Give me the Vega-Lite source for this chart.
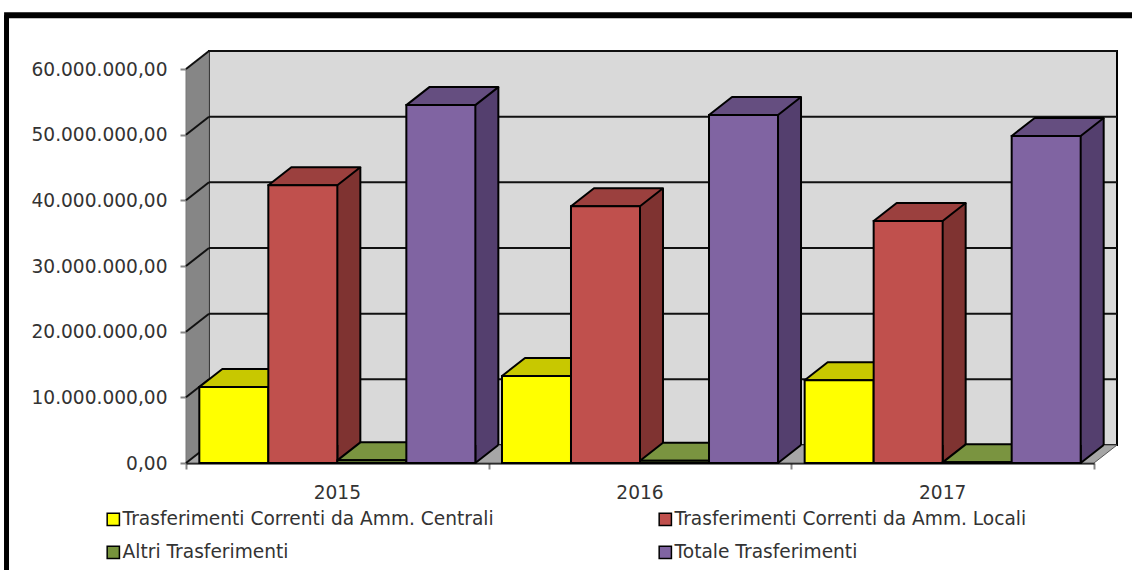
{
"$schema":"https://vega.github.io/schema/vega-lite/v6.json",
"width":908,"height":394,
"autosize":{"type":"none"},
"padding":{"left":186,"top":69,"right":38,"bottom":107},
"background":"white",
"config":{"view":{"stroke":null},"font":"DejaVu Sans"},
"datasets":{
"bars":[
{"anno":"2015","serie":"Trasferimenti Correnti da Amm. Centrali","valore":11570000},
{"anno":"2015","serie":"Trasferimenti Correnti da Amm. Locali","valore":42300000},
{"anno":"2015","serie":"Altri Trasferimenti","valore":400000},
{"anno":"2015","serie":"Totale Trasferimenti","valore":54500000},
{"anno":"2016","serie":"Trasferimenti Correnti da Amm. Centrali","valore":13250000},
{"anno":"2016","serie":"Trasferimenti Correnti da Amm. Locali","valore":39100000},
{"anno":"2016","serie":"Altri Trasferimenti","valore":350000},
{"anno":"2016","serie":"Totale Trasferimenti","valore":53000000},
{"anno":"2017","serie":"Trasferimenti Correnti da Amm. Centrali","valore":12600000},
{"anno":"2017","serie":"Trasferimenti Correnti da Amm. Locali","valore":36850000},
{"anno":"2017","serie":"Altri Trasferimenti","valore":100000},
{"anno":"2017","serie":"Totale Trasferimenti","valore":49800000}
],
"griglia":[{"v":0},{"v":10000000},{"v":20000000},{"v":30000000},{"v":40000000},{"v":50000000},{"v":60000000}],
"uno":[{"k":1}]
},
"resolve":{"scale":{"x":"independent","color":"independent","xOffset":"independent"}},
"layer":[
{"data":{"name":"uno"},"mark":{"type":"rect","fill":"#d9d9d9","stroke":"#000","strokeWidth":2,"xOffset":23,"x2Offset":23,"yOffset":-18,"y2Offset":-18},
 "encoding":{"x":{"datum":0,"type":"quantitative","scale":{"domain":[0,3],"nice":false,"zero":false},"axis":null},"x2":{"datum":3},
 "y":{"datum":0,"type":"quantitative","scale":{"domain":[0,60000000],"nice":false},
  "axis":{"values":[0,10000000,20000000,30000000,40000000,50000000,60000000],"grid":false,"title":null,"domainColor":"#000","domainWidth":0,"tickColor":"#868686","tickWidth":2,"tickSize":6,"labelFontSize":18.6,"labelColor":"#333","labelPadding":13,"labelFont":"DejaVu Sans","labelExpr":"replace(replace(replace(format(datum.value,',.2f'),/,/g,'_'),'.',','),/_/g,'.')"}},
 "y2":{"datum":60000000}}},
{"data":{"name":"uno"},"mark":{"type":"point","filled":true,"opacity":1,"fill":"#868686","stroke":"#777","strokeWidth":1,"size":4,"shape":"M0 0 L23 -18 L23 -411.5 L0 -393.5 Z"},
 "encoding":{"x":{"datum":0,"type":"quantitative","scale":{"domain":[0,3],"nice":false,"zero":false},"axis":null},"y":{"datum":0,"type":"quantitative"}}},
{"data":{"name":"uno"},"mark":{"type":"point","filled":true,"opacity":1,"fill":"#a6a6a6","stroke":"#555","strokeWidth":1,"strokeJoin":"round","size":4,"shape":"M0 0 L23 -18 L931 -18 L908 0 Z"},
 "encoding":{"x":{"datum":0,"type":"quantitative","scale":{"domain":[0,3],"nice":false,"zero":false},"axis":null},"y":{"datum":0,"type":"quantitative"}}},
{"data":{"name":"griglia"},"transform":[{"filter":"datum.v>0"}],"mark":{"type":"rule","color":"#111","strokeWidth":2,"xOffset":23,"x2Offset":23,"yOffset":-18},
 "encoding":{"x":{"datum":0,"type":"quantitative","scale":{"domain":[0,3],"nice":false,"zero":false},"axis":null},"x2":{"datum":3},"y":{"field":"v","type":"quantitative"}}},
{"data":{"name":"griglia"},"mark":{"type":"point","filled":false,"opacity":1,"stroke":"#111","strokeWidth":2,"size":4,"shape":"M0 0 L23 -18"},
 "encoding":{"x":{"datum":0,"type":"quantitative","scale":{"domain":[0,3],"nice":false,"zero":false},
   "axis":{"orient":"bottom","values":[0,1,2,3],"labels":false,"title":null,"grid":false,"domain":true,"domainColor":"#000","domainWidth":2,"tickColor":"#868686","tickWidth":2,"tickSize":6}},
   "y":{"field":"v","type":"quantitative"}}},
{"data":{"name":"griglia"},"transform":[{"filter":"datum.v>=60000000"}],"mark":{"type":"rule","color":"#000","strokeWidth":6},
 "encoding":{"x":{"datum":-0.601,"type":"quantitative","scale":{"domain":[0,3],"nice":false,"zero":false},"axis":null},"x2":{"datum":3.13},"y":{"datum":68200000,"type":"quantitative"}}},
{"data":{"name":"griglia"},"transform":[{"filter":"datum.v>=60000000"}],"mark":{"type":"rule","color":"#000","strokeWidth":5},
 "encoding":{"x":{"datum":-0.593,"type":"quantitative","scale":{"domain":[0,3],"nice":false,"zero":false},"axis":null},"y":{"datum":68200000,"type":"quantitative"},"y2":{"datum":-16400000}}},
{"data":{"name":"bars"},"mark":{"type":"rule","strokeWidth":23,"yOffset":-18,"y2Offset":-18},
 "encoding":{"x":{"field":"anno","type":"nominal","scale":{"paddingInner":0,"paddingOuter":0},"axis":null},
 "xOffset":{"field":"serie","type":"nominal","sort":null,"scale":{"type":"band","domain":["Trasferimenti Correnti da Amm. Centrali","Trasferimenti Correnti da Amm. Locali","Altri Trasferimenti","Totale Trasferimenti"],"paddingInner":0,"paddingOuter":0.193,"range":[46,348.67]}},
 "y":{"field":"valore","type":"quantitative"},"y2":{"datum":0},
 "color":{"field":"serie","type":"nominal","legend":null,"scale":{"domain":["Trasferimenti Correnti da Amm. Centrali","Trasferimenti Correnti da Amm. Locali","Altri Trasferimenti","Totale Trasferimenti"],"range":["#a0a000","#7f3331","#5f7a30","#543f6e"]}}}},
{"data":{"name":"bars"},"mark":{"type":"rule","color":"#000","strokeWidth":2,"yOffset":-18,"y2Offset":-18},
 "encoding":{"x":{"field":"anno","type":"nominal","scale":{"paddingInner":0,"paddingOuter":0},"axis":null},
 "xOffset":{"field":"serie","type":"nominal","sort":null,"scale":{"type":"band","domain":["Trasferimenti Correnti da Amm. Centrali","Trasferimenti Correnti da Amm. Locali","Altri Trasferimenti","Totale Trasferimenti"],"paddingInner":0,"paddingOuter":0.193,"range":[57.5,360.17]}},
 "y":{"field":"valore","type":"quantitative"},"y2":{"datum":0}}},
{"data":{"name":"bars"},"mark":{"type":"point","filled":true,"opacity":1,"stroke":"#000","strokeWidth":2,"strokeJoin":"round","size":4,"shape":"M34.5 -18 L34.5 0 L57.5 -18"},
 "encoding":{"x":{"field":"anno","type":"nominal","scale":{"paddingInner":0,"paddingOuter":0},"axis":null},
 "xOffset":{"field":"serie","type":"nominal","sort":null,"scale":{"type":"band","domain":["Trasferimenti Correnti da Amm. Centrali","Trasferimenti Correnti da Amm. Locali","Altri Trasferimenti","Totale Trasferimenti"],"paddingInner":0,"paddingOuter":0.193}},
 "y":{"datum":0,"type":"quantitative"},
 "color":{"field":"serie","type":"nominal","legend":null,"scale":{"domain":["Trasferimenti Correnti da Amm. Centrali","Trasferimenti Correnti da Amm. Locali","Altri Trasferimenti","Totale Trasferimenti"],"range":["#a0a000","#7f3331","#5f7a30","#543f6e"]}}}},
{"data":{"name":"bars"},"mark":{"type":"point","filled":true,"opacity":1,"stroke":"#000","strokeWidth":2,"strokeJoin":"round","size":4,"shape":"M-34.5 0 L-11.5 -18 L57.5 -18 L34.5 0 Z"},
 "encoding":{"x":{"field":"anno","type":"nominal","scale":{"paddingInner":0,"paddingOuter":0},"axis":null},
 "xOffset":{"field":"serie","type":"nominal","sort":null,"scale":{"type":"band","domain":["Trasferimenti Correnti da Amm. Centrali","Trasferimenti Correnti da Amm. Locali","Altri Trasferimenti","Totale Trasferimenti"],"paddingInner":0,"paddingOuter":0.193}},
 "y":{"field":"valore","type":"quantitative"},
 "color":{"field":"serie","type":"nominal","legend":null,"scale":{"domain":["Trasferimenti Correnti da Amm. Centrali","Trasferimenti Correnti da Amm. Locali","Altri Trasferimenti","Totale Trasferimenti"],"range":["#c8c800","#9b403e","#7a9440","#654e80"]}}}},
{"data":{"name":"bars"},"mark":{"type":"bar","stroke":"#000","strokeWidth":2},
 "encoding":{"x":{"field":"anno","type":"nominal","scale":{"paddingInner":0,"paddingOuter":0},
   "axis":{"orient":"bottom","title":null,"labelAngle":0,"ticks":false,"domain":false,"labelFontSize":18.6,"labelColor":"#333","labelPadding":20,"labelFont":"DejaVu Sans"}},
 "xOffset":{"field":"serie","type":"nominal","sort":null,"scale":{"domain":["Trasferimenti Correnti da Amm. Centrali","Trasferimenti Correnti da Amm. Locali","Altri Trasferimenti","Totale Trasferimenti"],"paddingInner":0,"paddingOuter":0.193}},
 "y":{"field":"valore","type":"quantitative"},
 "color":{"field":"serie","type":"nominal","scale":{"domain":["Trasferimenti Correnti da Amm. Centrali","Trasferimenti Correnti da Amm. Locali","Altri Trasferimenti","Totale Trasferimenti"],"range":["#ffff00","#c0504d","#77933c","#8064a2"]},
  "legend":{"orient":"none","legendX":-82,"legendY":441,"columns":2,"direction":"horizontal","title":null,"symbolType":"square","symbolSize":150,"symbolStrokeColor":"#000","symbolStrokeWidth":1.5,"labelFontSize":18.6,"labelColor":"#333","labelFont":"DejaVu Sans","labelLimit":500,"columnPadding":162,"rowPadding":14,"gridAlign":"each","labelOffset":0}}}}
]
}
